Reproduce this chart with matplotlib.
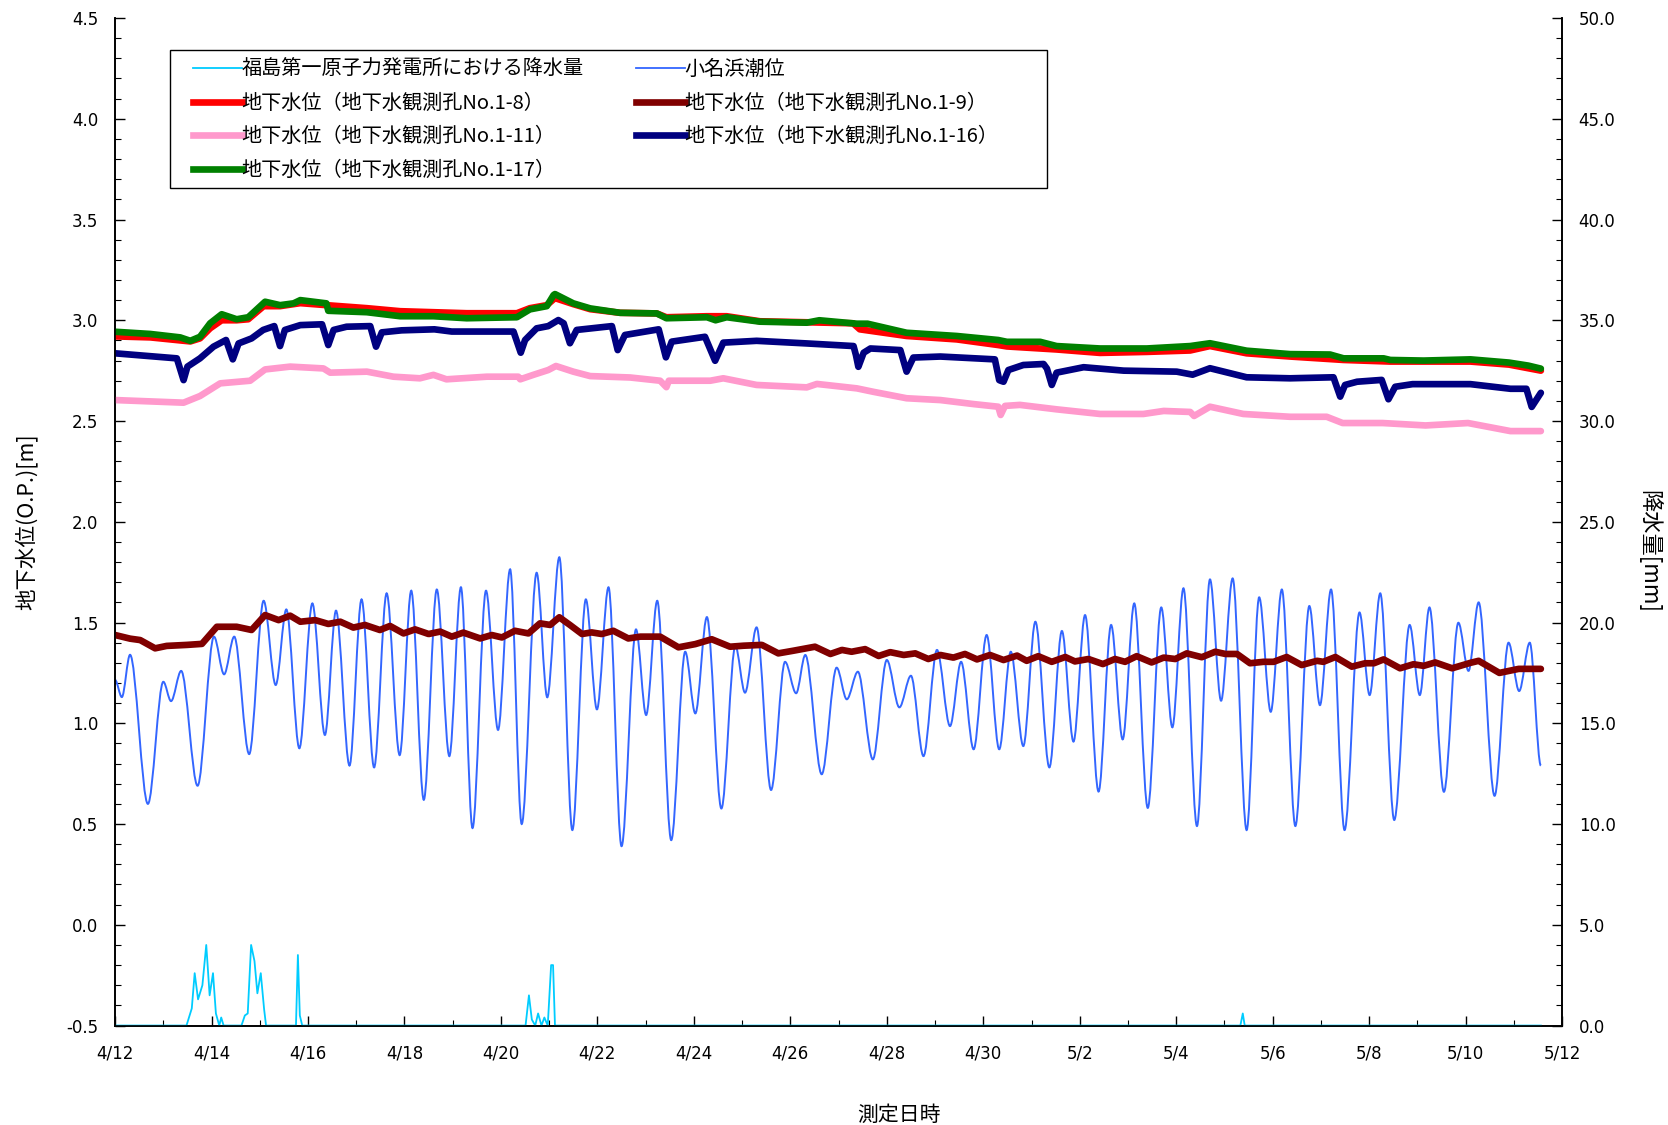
import matplotlib
matplotlib.use("Agg")
import matplotlib.pyplot as plt
from matplotlib.lines import Line2D
from matplotlib.patches import Rectangle, PathPatch
from matplotlib.path import Path

JP = ["Noto Sans CJK JP", "DejaVu Sans"]

# ── data: x = days since 4/12 00:00 ─────────────────────────────────────
# tide: high / low water readings
tide_day = [0.00, 0.14, 0.31, 0.68, 1.00, 1.16, 1.37, 1.71, 2.05, 2.26, 2.47, 2.78,
            3.08, 3.33, 3.55, 3.82, 4.09, 4.35, 4.58, 4.86, 5.11, 5.37, 5.63, 5.90,
            6.14, 6.40, 6.67, 6.93, 7.17, 7.41, 7.69, 7.94, 8.19, 8.43, 8.74, 8.96,
            9.21, 9.48, 9.76, 9.99, 10.23, 10.50, 10.80, 11.01, 11.24, 11.53, 11.82,
            12.03, 12.27, 12.57, 12.86, 13.06, 13.30, 13.60, 13.89, 14.12, 14.31,
            14.65, 14.96, 15.17, 15.40, 15.71, 16.00, 16.26, 16.50, 16.76, 17.04,
            17.31, 17.54, 17.80, 18.07, 18.33, 18.57, 18.83, 19.08, 19.37, 19.63,
            19.87, 20.11, 20.39, 20.65, 20.89, 21.13, 21.41, 21.69, 21.92, 22.15,
            22.43, 22.70, 22.93, 23.17, 23.46, 23.72, 23.96, 24.19, 24.47, 24.76,
            24.98, 25.21, 25.49, 25.80, 26.01, 26.23, 26.52, 26.84, 27.05, 27.25,
            27.55, 27.85, 28.06, 28.27, 28.60, 28.89, 29.11, 29.33, 29.56]
tide_lv = [1.215, 1.13, 1.34, 0.60, 1.206, 1.11, 1.26, 0.69, 1.43, 1.243, 1.43, 0.847,
           1.608, 1.19, 1.565, 0.876, 1.595, 0.942, 1.559, 0.79, 1.615, 0.781, 1.645, 0.842,
           1.658, 0.62, 1.664, 0.837, 1.675, 0.48, 1.658, 0.967, 1.764, 0.50, 1.747, 1.129,
           1.824, 0.47, 1.615, 1.069, 1.675, 0.39, 1.466, 1.041, 1.608, 0.42, 1.355,
           1.049, 1.527, 0.577, 1.383, 1.152, 1.476, 0.669, 1.305, 1.149, 1.339,
           0.747, 1.276, 1.119, 1.256, 0.821, 1.314, 1.079, 1.236, 0.837, 1.364,
           0.986, 1.305, 0.871, 1.438, 0.871, 1.355, 0.887, 1.504, 0.781, 1.458,
           0.909, 1.537, 0.661, 1.488, 0.92, 1.595, 0.58, 1.575, 0.98, 1.67,
           0.49, 1.714, 1.112, 1.719, 0.47, 1.625, 1.057, 1.664, 0.49, 1.582,
           1.09, 1.664, 0.47, 1.55, 1.14, 1.645, 0.52, 1.488, 1.14, 1.575,
           0.66, 1.499, 1.26, 1.60, 0.64, 1.40, 1.16, 1.40, 0.79]

rain_day = [0.00, 1.48, 1.59, 1.65, 1.72, 1.81, 1.89, 1.96, 2.03, 2.09, 2.16, 2.20, 2.25,
            2.62, 2.69, 2.75, 2.82, 2.89, 2.95, 3.02, 3.09, 3.13,
            3.75, 3.79, 3.83, 3.88,
            8.51, 8.58, 8.64, 8.71, 8.77, 8.84, 8.90, 8.97, 9.04, 9.08, 9.12,
            23.33, 23.38, 23.42, 29.56]
rain_mm = [0.0, 0.0, 0.85, 2.6, 1.3, 2.0, 4.0, 1.5, 2.6, 0.6, 0.0, 0.4, 0.0,
           0.0, 0.5, 0.6, 4.0, 3.2, 1.6, 2.6, 0.8, 0.0,
           0.0, 3.5, 0.5, 0.0,
           0.0, 1.5, 0.3, 0.0, 0.6, 0.0, 0.4, 0.0, 3.0, 3.0, 0.0,
           0.0, 0.6, 0.0, 0.0]

gw8_day = [0.0, 0.73, 1.35, 1.56, 1.76, 1.97, 2.21, 2.52, 2.76, 3.08, 3.42, 3.84, 4.38,
           5.22, 5.91, 6.60, 7.29, 8.33, 8.60, 8.95, 9.12, 9.50, 9.85, 10.47, 11.23,
           11.43, 12.27, 12.68, 13.37, 14.34, 15.30, 15.44, 16.41, 17.45, 18.31, 18.49,
           19.52, 20.42, 21.39, 22.29, 22.70, 23.46, 24.36, 25.47, 26.44, 28.10, 28.90,
           29.56]
gw8 = [2.92, 2.915, 2.90, 2.895, 2.91, 2.96, 3.00, 3.00, 3.005, 3.07, 3.07, 3.085, 3.075,
       3.06, 3.045, 3.04, 3.035, 3.035, 3.06, 3.075, 3.11, 3.08, 3.055, 3.037, 3.034,
       3.015, 3.02, 3.02, 2.995, 2.99, 2.985, 2.955, 2.922, 2.905, 2.877, 2.87,
       2.855, 2.838, 2.843, 2.85, 2.872, 2.836, 2.82, 2.803, 2.795, 2.795, 2.78,
       2.75]

gw9_day = [0.0, 0.31, 0.52, 0.83, 1.07, 1.49, 1.80, 2.11, 2.52, 2.83, 3.11, 3.39, 3.63,
           3.84, 4.15, 4.42, 4.67, 4.94, 5.18, 5.49, 5.70, 5.98, 6.22, 6.50, 6.74, 6.98,
           7.22, 7.57, 7.81, 8.02, 8.29, 8.57, 8.81, 9.02, 9.21, 9.43, 9.68, 9.88, 10.09,
           10.33, 10.64, 10.89, 11.30, 11.68, 12.03, 12.37, 12.75, 13.03, 13.41, 13.75,
           14.06, 14.51, 14.83, 15.07, 15.27, 15.55, 15.83, 16.07, 16.35, 16.59, 16.86,
           17.11, 17.38, 17.62, 17.87, 18.14, 18.42, 18.70, 18.90, 19.14, 19.42, 19.70,
           19.90, 20.18, 20.48, 20.73, 20.94, 21.18, 21.49, 21.74, 21.98, 22.22, 22.53,
           22.81, 23.02, 23.26, 23.53, 23.81, 24.02, 24.29, 24.60, 24.92, 25.05, 25.30,
           25.64, 25.92, 26.10, 26.30, 26.64, 26.92, 27.13, 27.37, 27.72, 28.10, 28.27,
           28.70, 29.10, 29.56]
gw9 = [1.438, 1.42, 1.413, 1.372, 1.384, 1.389, 1.394, 1.479, 1.479, 1.463, 1.537, 1.512,
       1.534, 1.504, 1.512, 1.493, 1.504, 1.475, 1.488, 1.463, 1.483, 1.446, 1.466, 1.443,
       1.455, 1.43, 1.45, 1.421, 1.438, 1.426, 1.459, 1.446, 1.496, 1.488, 1.526, 1.488,
       1.443, 1.451, 1.443, 1.459, 1.421, 1.43, 1.43, 1.377, 1.393, 1.417, 1.38, 1.385,
       1.389, 1.347, 1.36, 1.38, 1.344, 1.364, 1.355, 1.368, 1.334, 1.353, 1.339, 1.347,
       1.319, 1.339, 1.326, 1.344, 1.317, 1.339, 1.314, 1.336, 1.31, 1.333, 1.305, 1.329,
       1.307, 1.319, 1.294, 1.319, 1.305, 1.333, 1.302, 1.326, 1.319, 1.347, 1.328,
       1.355, 1.344, 1.344, 1.298, 1.305, 1.305, 1.329, 1.289, 1.31, 1.305, 1.329,
       1.281, 1.298, 1.298, 1.317, 1.273, 1.293, 1.285, 1.302, 1.273, 1.30, 1.31,
       1.25, 1.27, 1.27]

gw11_day = [0.0, 1.42, 1.76, 2.18, 2.80, 3.11, 3.63, 4.32, 4.46, 5.22, 5.77, 6.32, 6.60,
            6.87, 7.71, 8.36, 8.40, 8.67, 8.98, 9.14, 9.50, 9.85, 10.68, 11.30, 11.43,
            11.48, 12.34, 12.61, 13.30, 14.34, 14.55, 15.38, 15.72, 16.41, 17.11, 17.80,
            18.31, 18.36, 18.45, 18.76, 19.52, 20.42, 21.32, 21.74, 22.29, 22.37, 22.70,
            23.39, 24.36, 25.12, 25.45, 26.28, 27.17, 28.05, 28.93, 29.56]
gw11 = [2.604, 2.591, 2.624, 2.687, 2.70, 2.756, 2.77, 2.761, 2.74, 2.745, 2.72, 2.712, 2.729,
        2.707, 2.72, 2.72, 2.707, 2.729, 2.753, 2.773, 2.745, 2.723, 2.716, 2.70, 2.668,
        2.70, 2.70, 2.712, 2.679, 2.667, 2.684, 2.662, 2.645, 2.613, 2.604, 2.584,
        2.571, 2.53, 2.575, 2.58, 2.558, 2.535, 2.535, 2.55, 2.545, 2.525, 2.571,
        2.535, 2.521, 2.521, 2.49, 2.49, 2.478, 2.49, 2.45, 2.45]

gw16_day = [0.0, 1.28, 1.42, 1.50, 1.76, 2.04, 2.30, 2.44, 2.56, 2.83, 3.07, 3.30, 3.42,
            3.52, 3.84, 4.29, 4.42, 4.53, 4.80, 5.29, 5.41, 5.53, 5.94, 6.62, 6.98, 8.26,
            8.41, 8.50, 8.74, 8.98, 9.19, 9.30, 9.43, 9.57, 10.30, 10.42, 10.57, 11.27,
            11.42, 11.54, 12.23, 12.44, 12.61, 13.30, 14.34, 15.31, 15.36, 15.41, 15.52,
            15.66, 16.28, 16.41, 16.55, 17.11, 18.24, 18.33, 18.36, 18.42, 18.52, 18.83,
            19.25, 19.32, 19.42, 19.52, 20.08, 20.91, 22.01, 22.34, 22.70, 23.46, 24.36,
            25.26, 25.40, 25.50, 25.75, 26.26, 26.40, 26.54, 26.90, 28.10, 28.93, 29.26,
            29.37, 29.56]
gw16 = [2.836, 2.811, 2.703, 2.77, 2.811, 2.869, 2.902, 2.806, 2.885, 2.91, 2.952, 2.971, 2.872,
        2.952, 2.976, 2.98, 2.877, 2.952, 2.968, 2.971, 2.869, 2.94, 2.95, 2.955, 2.944, 2.944,
        2.839, 2.902, 2.96, 2.971, 3.001, 2.985, 2.886, 2.952, 2.971, 2.852, 2.927, 2.955,
        2.816, 2.894, 2.918, 2.799, 2.889, 2.898, 2.885, 2.872, 2.827, 2.769, 2.839,
        2.86, 2.852, 2.745, 2.815, 2.82, 2.806, 2.703, 2.70, 2.695, 2.753, 2.778,
        2.783, 2.76, 2.679, 2.74, 2.767, 2.75, 2.745, 2.73, 2.762, 2.717, 2.712,
        2.717, 2.621, 2.679, 2.695, 2.704, 2.608, 2.67, 2.683, 2.683, 2.66, 2.66,
        2.57, 2.64]

gw17_day = [0.0, 0.73, 1.35, 1.56, 1.76, 1.97, 2.21, 2.52, 2.76, 3.11, 3.42, 3.70, 3.84,
            4.38, 4.42, 5.22, 5.91, 6.60, 7.29, 8.33, 8.60, 8.95, 9.09, 9.12, 9.50, 9.85,
            10.47, 11.23, 11.43, 12.27, 12.45, 12.68, 13.37, 14.34, 14.60, 15.38, 15.60,
            16.41, 17.45, 18.31, 18.49, 19.18, 19.52, 20.42, 21.39, 22.29, 22.70, 23.46,
            24.36, 25.19, 25.47, 26.30, 26.44, 27.13, 28.10, 28.90, 29.30, 29.56]
gw17 = [2.943, 2.932, 2.915, 2.898, 2.918, 2.985, 3.03, 3.005, 3.015, 3.092, 3.075, 3.084, 3.10,
        3.084, 3.047, 3.04, 3.02, 3.02, 3.01, 3.015, 3.054, 3.07, 3.125, 3.13, 3.084, 3.059,
        3.037, 3.034, 3.01, 3.015, 3.0, 3.015, 2.993, 2.988, 3.0, 2.983, 2.983,
        2.938, 2.922, 2.902, 2.893, 2.893, 2.872, 2.86, 2.86, 2.872, 2.886, 2.849,
        2.832, 2.83, 2.811, 2.811, 2.803, 2.80, 2.806, 2.79, 2.775, 2.76]

x_ticks = [0, 2, 4, 6, 8, 10, 12, 14, 16, 18, 20, 22, 24, 26, 28, 30]
x_labels = ["4/12", "4/14", "4/16", "4/18", "4/20", "4/22", "4/24", "4/26", "4/28",
            "4/30", "5/2", "5/4", "5/6", "5/8", "5/10", "5/12"]
y_ticks = [-0.5, 0.0, 0.5, 1.0, 1.5, 2.0, 2.5, 3.0, 3.5, 4.0, 4.5]
y2_ticks = [0, 5, 10, 15, 20, 25, 30, 35, 40, 45, 50]

# ── colours ───────────────────────────────────────────────────────────────
C_RAIN = "#00CCFF"
C_TIDE = "#3366FF"
C_8 = "#FF0000"
C_9 = "#800000"
C_11 = "#FF99CC"
C_16 = "#000080"
C_17 = "#008000"


def smooth_line(xs, ys):
    # smoothed line through the readings (flat tangent at each high/low water)
    verts = [(xs[0], ys[0])]
    codes = [Path.MOVETO]
    for i in range(1, len(xs)):
        dx = xs[i] - xs[i - 1]
        verts += [(xs[i - 1] + dx / 3, ys[i - 1]), (xs[i] - dx / 3, ys[i]), (xs[i], ys[i])]
        codes += [Path.CURVE4] * 3
    return Path(verts, codes)


fig = plt.figure(figsize=(16.68, 11.25), dpi=100, facecolor="white")
ax = fig.add_axes([0.069, 0.0884, 0.8675, 0.8956])
ax2 = ax.twinx()

GW_LW = 4.8
ax.add_patch(PathPatch(smooth_line(tide_day, tide_lv), facecolor="none",
                       edgecolor=C_TIDE, lw=1.4, zorder=2))
ax.plot(gw8_day, gw8, color=C_8, lw=GW_LW, solid_capstyle="round", zorder=3)
ax.plot(gw9_day, gw9, color=C_9, lw=GW_LW, solid_capstyle="round", zorder=3)
ax.plot(gw11_day, gw11, color=C_11, lw=GW_LW, solid_capstyle="round", zorder=3)
ax.plot(gw16_day, gw16, color=C_16, lw=GW_LW, solid_capstyle="round", zorder=3)
ax.plot(gw17_day, gw17, color=C_17, lw=GW_LW, solid_capstyle="round", zorder=3)
ax2.plot(rain_day, rain_mm, color=C_RAIN, lw=1.3, zorder=2)

ax.set_xlim(0, 30)
ax.set_ylim(-0.5, 4.5)
ax2.set_ylim(0, 50)

ax.set_xticks(x_ticks)
ax.set_xticklabels(x_labels)
ax.set_xticks(range(0, 31), minor=True)
ax.set_yticks(y_ticks)
ax.set_yticklabels([f"{v:.1f}" for v in y_ticks])
ax.set_yticks([v / 10 for v in range(-5, 46)], minor=True)
ax2.set_yticks(y2_ticks)
ax2.set_yticklabels([f"{v:.1f}" for v in y2_ticks])
ax2.set_yticks(range(0, 51), minor=True)

for a in (ax, ax2):
    a.tick_params(which="major", direction="in", length=7, width=1, labelsize=12,
                  colors="black")
    a.tick_params(which="minor", direction="in", length=4, width=0.8)
    a.spines["top"].set_visible(False)
    for s in ("left", "right", "bottom"):
        a.spines[s].set_linewidth(1.2)
ax.tick_params(axis="x", pad=14)
ax.tick_params(axis="y", pad=12)
ax2.tick_params(axis="y", pad=12)

fig.text(0.016, 0.536, "地下水位(O.P.)[m]", rotation=90, ha="center", va="center",
         fontsize=15.5, family=JP)
fig.text(0.9886, 0.51, "降水量[mm]", rotation=-90, ha="center", va="center",
         fontsize=16, family=JP)
fig.text(0.539, 0.0089, "測定日時", ha="center", va="center", fontsize=15, family=JP)

# ── legend box ────────────────────────────────────────────────────────────
ax2.add_patch(Rectangle((0.038, 0.831), 0.606, 0.137, transform=ax2.transAxes,
                        facecolor="white", edgecolor="black", lw=1.0, zorder=8))
handles = [
    Line2D([], [], color=C_RAIN, lw=1.3),
    Line2D([], [], color=C_8, lw=GW_LW),
    Line2D([], [], color=C_11, lw=GW_LW),
    Line2D([], [], color=C_17, lw=GW_LW),
    Line2D([], [], color=C_TIDE, lw=1.3),
    Line2D([], [], color=C_9, lw=GW_LW),
    Line2D([], [], color=C_16, lw=GW_LW),
]
labels = [
    "福島第一原子力発電所における降水量",
    "地下水位（地下水観測孔No.1-8）",
    "地下水位（地下水観測孔No.1-11）",
    "地下水位（地下水観測孔No.1-17）",
    "小名浜潮位",
    "地下水位（地下水観測孔No.1-9）",
    "地下水位（地下水観測孔No.1-16）",
]
leg = ax2.legend(handles, labels, ncol=2, loc="upper left",
                 bbox_to_anchor=(0.043, 0.975), frameon=False,
                 prop={"family": JP, "size": 14.5}, handlelength=2.4,
                 handletextpad=0.0, columnspacing=2.6, labelspacing=0.62,
                 borderpad=0.3)
leg.set_zorder(9)

fig.savefig("out.png", dpi=100, facecolor="white")
